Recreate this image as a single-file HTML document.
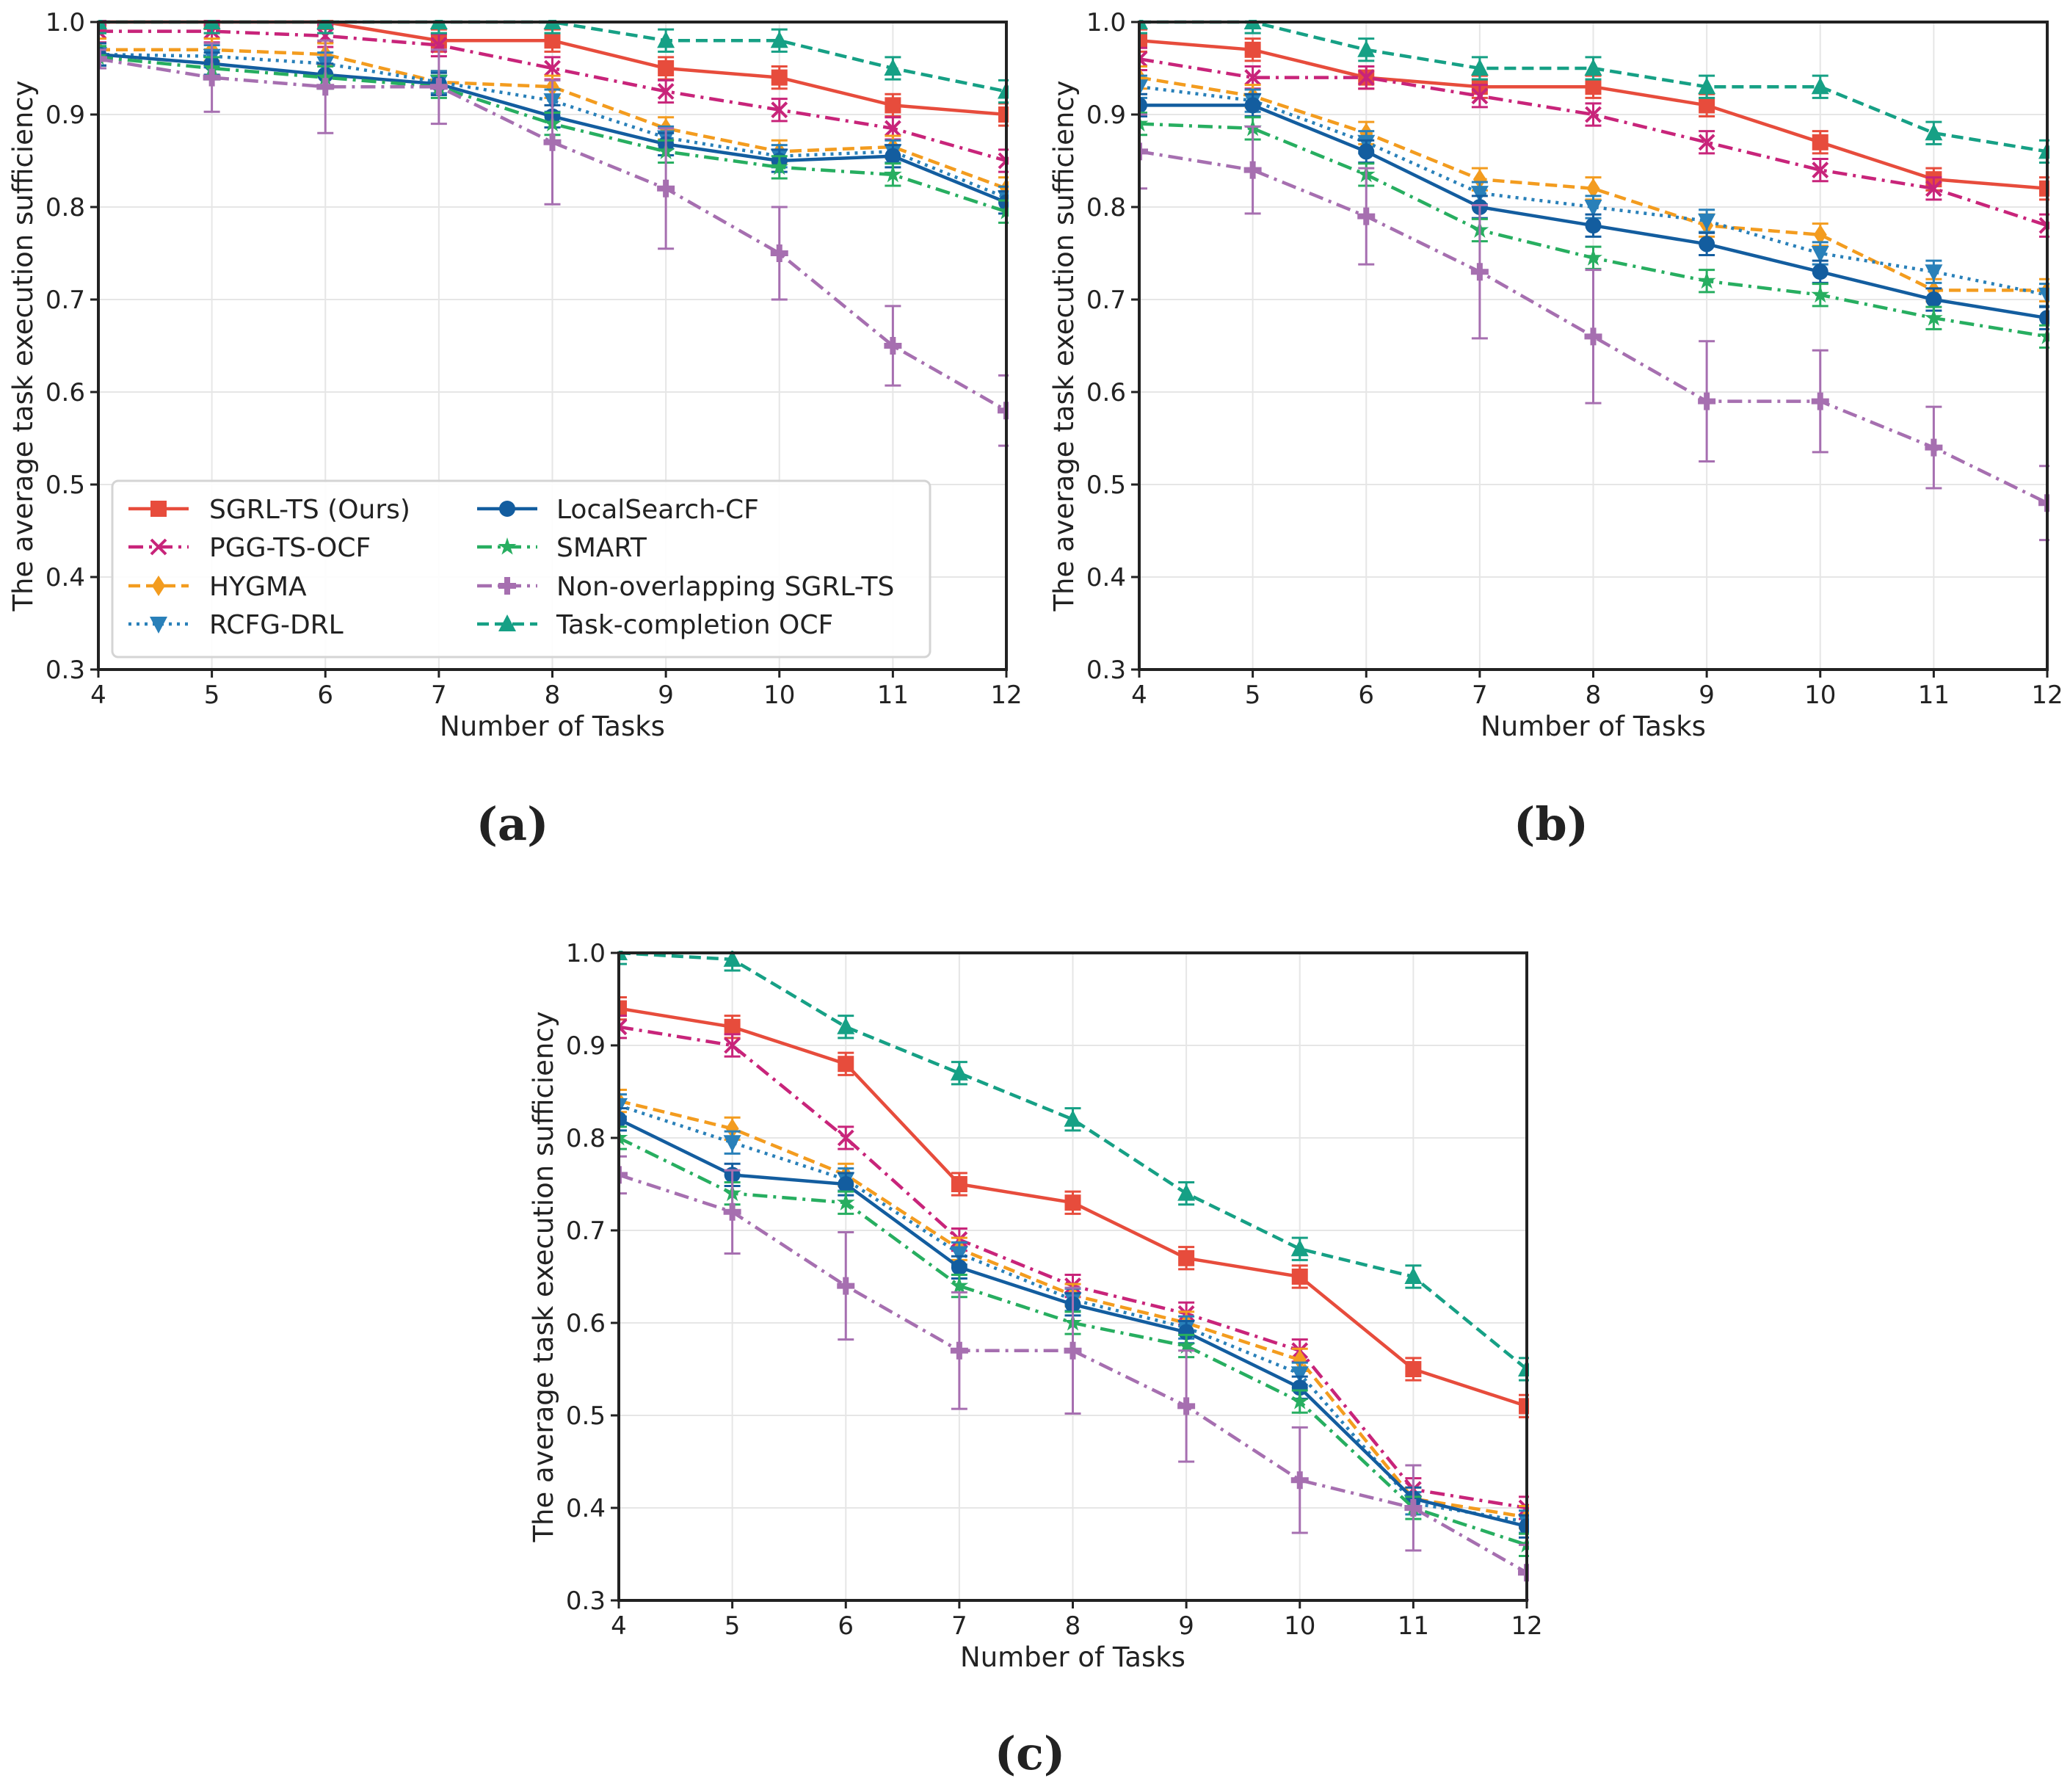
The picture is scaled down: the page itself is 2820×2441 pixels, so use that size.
<!DOCTYPE html>
<html><head><meta charset="utf-8"><style>
html,body{margin:0;padding:0;background:#fff}
svg{display:block}
text{font-family:"DejaVu Sans","Liberation Sans",sans-serif;fill:#222}
</style></head><body>
<svg id="fig" width="2820" height="2441" viewBox="0 0 2820 2441" xmlns="http://www.w3.org/2000/svg"></svg>
<script>
const tasks=[4,5,6,7,8,9,10,11,12];
const yTicks=[0.3,0.4,0.5,0.6,0.7,0.8,0.9,1.0];
const seriesNames=["SGRL-TS (Ours)","PGG-TS-OCF","HYGMA","RCFG-DRL","LocalSearch-CF","SMART","Non-overlapping SGRL-TS","Task-completion OCF"];
// panel a
const aSGRL=[1.0,1.0,1.0,0.98,0.98,0.95,0.94,0.91,0.90];
const aPGG=[0.99,0.99,0.985,0.975,0.95,0.925,0.905,0.885,0.85];
const aHYGMA=[0.97,0.97,0.965,0.935,0.93,0.885,0.86,0.865,0.82];
const aRCFG=[0.965,0.963,0.955,0.935,0.915,0.875,0.855,0.86,0.81];
const aLS=[0.965,0.955,0.943,0.933,0.898,0.868,0.85,0.855,0.805];
const aSMART=[0.962,0.95,0.94,0.93,0.89,0.86,0.843,0.835,0.795];
const aNON=[0.96,0.94,0.93,0.93,0.87,0.82,0.75,0.65,0.58];
const aTC=[1.0,1.0,1.0,1.0,1.0,0.98,0.98,0.95,0.925];
const aNONerr=[0.01,0.037,0.05,0.04,0.067,0.065,0.05,0.043,0.038];
// panel b
const bSGRL=[0.98,0.97,0.94,0.93,0.93,0.91,0.87,0.83,0.82];
const bPGG=[0.96,0.94,0.94,0.92,0.90,0.87,0.84,0.82,0.78];
const bHYGMA=[0.94,0.92,0.88,0.83,0.82,0.78,0.77,0.71,0.71];
const bRCFG=[0.93,0.915,0.87,0.815,0.80,0.785,0.75,0.73,0.705];
const bLS=[0.91,0.91,0.86,0.80,0.78,0.76,0.73,0.70,0.68];
const bSMART=[0.89,0.885,0.835,0.775,0.745,0.72,0.705,0.68,0.66];
const bNON=[0.86,0.84,0.79,0.73,0.66,0.59,0.59,0.54,0.48];
const bTC=[1.0,1.0,0.97,0.95,0.95,0.93,0.93,0.88,0.86];
const bNONerr=[0.04,0.047,0.052,0.072,0.072,0.065,0.055,0.044,0.04];
// panel c
const cSGRL=[0.94,0.92,0.88,0.75,0.73,0.67,0.65,0.55,0.51];
const cPGG=[0.92,0.90,0.80,0.69,0.64,0.61,0.57,0.42,0.40];
const cHYGMA=[0.84,0.81,0.76,0.68,0.63,0.60,0.56,0.41,0.39];
const cRCFG=[0.835,0.795,0.755,0.675,0.625,0.595,0.545,0.405,0.385];
const cLS=[0.82,0.76,0.75,0.66,0.62,0.59,0.53,0.41,0.38];
const cSMART=[0.80,0.74,0.73,0.64,0.60,0.575,0.515,0.40,0.36];
const cNON=[0.76,0.72,0.64,0.57,0.57,0.51,0.43,0.40,0.33];
const cTC=[1.0,0.993,0.92,0.87,0.82,0.74,0.68,0.65,0.55];
const cNONerr=[0.02,0.045,0.058,0.063,0.068,0.06,0.057,0.046,0.03];

const styles=[
 {c:"#e74c3c",d:"",m:"square"},
 {c:"#c8247a",d:"20 8 4 8",m:"x"},
 {c:"#f39c1f",d:"16 8",m:"diamond"},
 {c:"#2980b9",d:"4 7",m:"tri-down"},
 {c:"#135d9f",d:"",m:"circle"},
 {c:"#27ae60",d:"20 8 4 8",m:"star"},
 {c:"#a66fb0",d:"20 8 4 8",m:"plus"},
 {c:"#16a085",d:"16 8",m:"tri-up"}];

const NS="http://www.w3.org/2000/svg";
const svg=document.getElementById('fig');
function el(tag,attrs,parent){const e=document.createElementNS(NS,tag);for(const k in attrs)e.setAttribute(k,attrs[k]);(parent||svg).appendChild(e);return e;}

function marker(g,type,x,y,col){
  const s=11;let e;
  if(type==="square")e=el('rect',{x:x-s,y:y-s,width:2*s,height:2*s,fill:col},g);
  else if(type==="circle")e=el('circle',{cx:x,cy:y,r:s,fill:col},g);
  else if(type==="diamond")e=el('polygon',{points:`${x},${y-14} ${x+9},${y} ${x},${y+14} ${x-9},${y}`,fill:col},g);
  else if(type==="tri-down")e=el('polygon',{points:`${x-12},${y-10} ${x+12},${y-10} ${x},${y+13}`,fill:col},g);
  else if(type==="tri-up")e=el('polygon',{points:`${x-12},${y+10} ${x+12},${y+10} ${x},${y-13}`,fill:col},g);
  else if(type==="x")e=el('path',{d:`M${x-10},${y-10}L${x+10},${y+10}M${x-10},${y+10}L${x+10},${y-10}`,stroke:col,'stroke-width':4,fill:'none'},g);
  else if(type==="plus")e=el('path',{d:`M${x-4},${y-12}h8v8h8v8h-8v8h-8v-8h-8v-8h8z`,fill:col},g);
  else if(type==="star"){let p=[];for(let i=0;i<10;i++){const r=i%2?5:13,a=-Math.PI/2+i*Math.PI/5;p.push((x+r*Math.cos(a)).toFixed(1)+","+(y+r*Math.sin(a)).toFixed(1));}e=el('polygon',{points:p.join(' '),fill:col},g);}
  
  
}

function panel(id,x0,y0,data,nonErr,lab,labX,labY){
  const W=1237,H=882;
  const xs=v=>x0+(v-4)/8*W, ys=v=>y0+H-(v-0.3)/0.7*H;
  const g=el('g',{});
  
  
  const clipId='clip'+id;
  const cp=el('clipPath',{id:clipId},g);el('rect',{x:x0,y:y0-3,width:W+3,height:H+3},cp);
  tasks.forEach(t=>{const l=el('line',{x1:xs(t),x2:xs(t),y1:y0,y2:y0+H,stroke:'#e6e6e6','stroke-width':2},g);});
  yTicks.forEach(t=>{const l=el('line',{x1:x0,x2:x0+W,y1:ys(t),y2:ys(t),stroke:'#e6e6e6','stroke-width':2},g);});
  const pg=el('g',{'clip-path':`url(#${clipId})`},g);
  data.forEach((arr,si)=>{
    const st=styles[si];
    const sg=el('g',{},pg);
    
    
    arr.forEach((v,i)=>{
      const e=si===6?nonErr[i]:0.012;
      const x=xs(tasks[i]);
      const eb=el('path',{d:`M${x},${ys(v-e)}V${ys(v+e)}M${x-11},${ys(v-e)}h22M${x-11},${ys(v+e)}h22`,stroke:st.c,'stroke-width':3,fill:'none'},sg);
      
    });
    const pl=el('polyline',{points:arr.map((v,i)=>xs(tasks[i])+","+ys(v)).join(' '),fill:'none',stroke:st.c,'stroke-width':4.5,'stroke-dasharray':st.d},sg);
    
    arr.forEach((v,i)=>marker(sg,st.m,xs(tasks[i]),ys(v),st.c));
  });
  const fr=el('rect',{x:x0,y:y0,width:W,height:H,fill:'none',stroke:'#222','stroke-width':4},g);
  
  tasks.forEach(t=>{
    el('line',{x1:xs(t),x2:xs(t),y1:y0+H,y2:y0+H+11,stroke:'#222','stroke-width':3},g);
    const tx=el('text',{x:xs(t),y:y0+H+46,'text-anchor':'middle','font-size':34},g);tx.textContent=t;
    
  });
  yTicks.forEach(t=>{
    el('line',{x1:x0-11,x2:x0,y1:ys(t),y2:ys(t),stroke:'#222','stroke-width':3},g);
    const tx=el('text',{x:x0-18,y:ys(t)+12,'text-anchor':'end','font-size':34},g);tx.textContent=t.toFixed(1);
    
  });
  const xl=el('text',{x:x0+W/2,y:y0+H+90,'text-anchor':'middle','font-size':37},g);xl.textContent="Number of Tasks";
  
  const yl=el('text',{x:0,y:0,'text-anchor':'middle','font-size':37,transform:`translate(${x0-90},${y0+H/2}) rotate(-90)`},g);yl.textContent="The average task execution sufficiency";
  
  const pl=el('text',{x:labX,y:labY,'text-anchor':'middle','font-size':62,'font-weight':'bold',style:'font-family:"DejaVu Serif","Liberation Serif",serif'},svg);pl.textContent=lab;
  
  return g;
}
panel('a',134,30,[aSGRL,aPGG,aHYGMA,aRCFG,aLS,aSMART,aNON,aTC],aNONerr,"(a)",698,1144);
panel('b',1552,30,[bSGRL,bPGG,bHYGMA,bRCFG,bLS,bSMART,bNON,bTC],bNONerr,"(b)",2113,1144);
panel('c',843,1298,[cSGRL,cPGG,cHYGMA,cRCFG,cLS,cSMART,cNON,cTC],cNONerr,"(c)",1403,2410);

const lg=el('g',{});


el('rect',{x:153,y:655,width:1114,height:240,rx:8,fill:'#fff','fill-opacity':0.9,stroke:'#d4d4d4','stroke-width':3},lg);
const rowsY=[693,745,798,850];
seriesNames.forEach((n,i)=>{
  const col=Math.floor(i/4),r=i%4;
  const lx=col?650:175, tx=col?758:285, y=rowsY[r];
  const st=styles[i];
  const eg=el('g',{},lg);
  
  
  el('line',{x1:lx,x2:lx+82,y1:y,y2:y,stroke:st.c,'stroke-width':4.5,'stroke-dasharray':st.d},eg);
  marker(eg,st.m,lx+41,y,st.c);
  const t=el('text',{x:tx,y:y+13,'font-size':36},eg);t.textContent=n;
});
</script>
</body></html>
